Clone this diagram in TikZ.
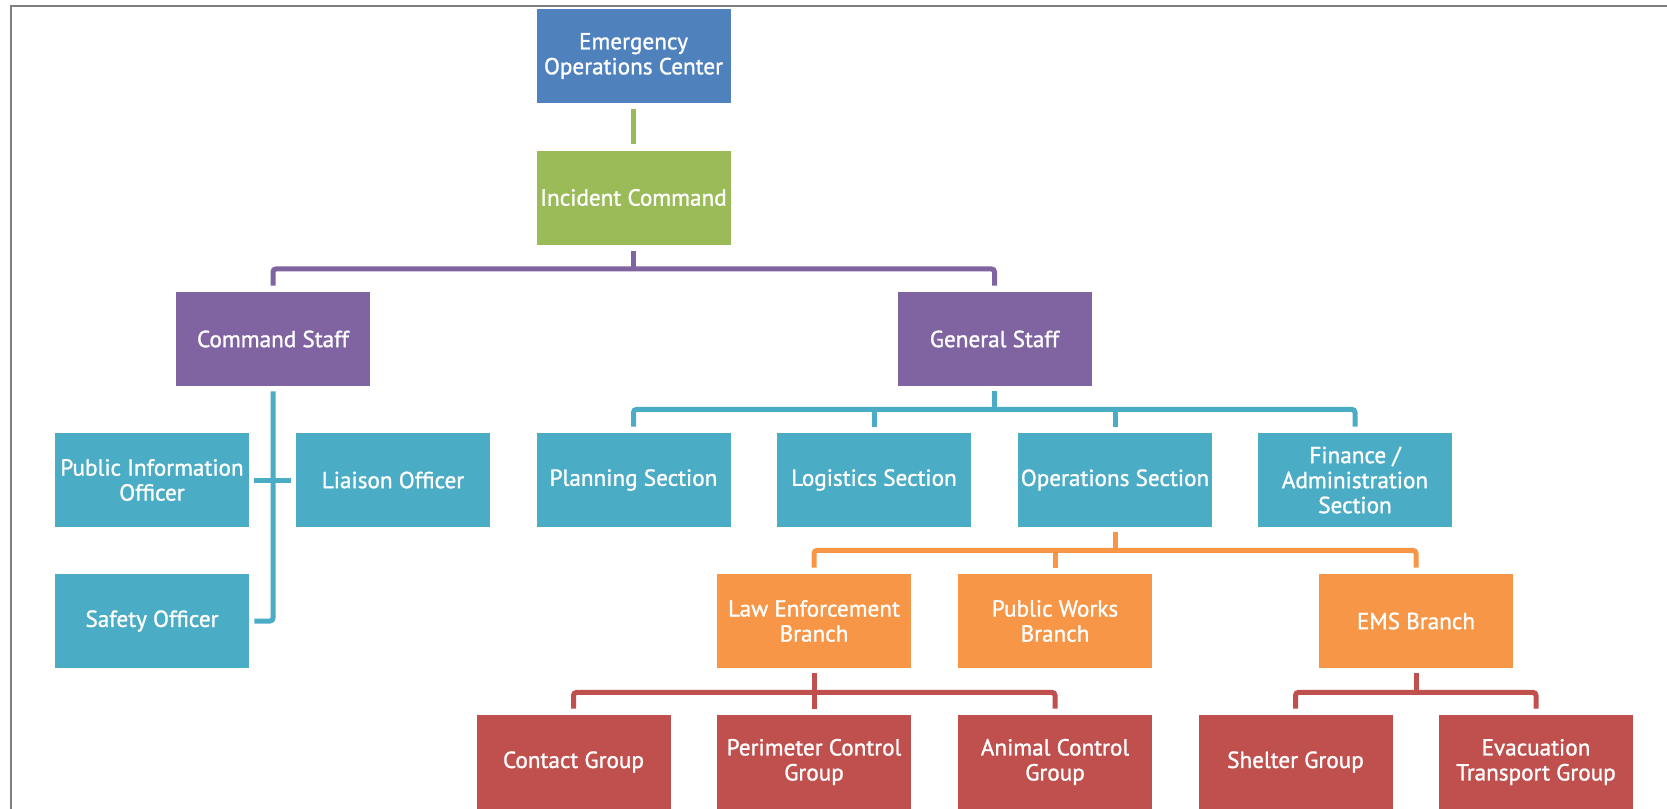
\documentclass[tikz,border=0pt]{standalone}
\usepackage{fontspec}
\setmainfont{PT Sans}
\newfontfamily\boxfont{PT Sans}[FakeBold=1.2]
\definecolor{cBlue}{HTML}{4F81BD}
\definecolor{cGreen}{HTML}{9BBB59}
\definecolor{cPurple}{HTML}{8064A2}
\definecolor{cTeal}{HTML}{4BACC6}
\definecolor{cOrange}{HTML}{F79646}
\definecolor{cRed}{HTML}{C0504D}
\definecolor{cFrame}{HTML}{7F7F7F}
\begin{document}
\begin{tikzpicture}[x=0.5pt,y=-0.5pt,
  box/.style={rectangle, minimum width=97pt, minimum height=47pt, inner sep=0pt,
    text=white, align=center, font=\boxfont\fontsize{11.6}{12.5}\selectfont},
  blue box/.style={box, fill=cBlue},
  green box/.style={box, fill=cGreen},
  purple box/.style={box, fill=cPurple},
  teal box/.style={box, fill=cTeal},
  orange box/.style={box, fill=cOrange},
  red box/.style={box, fill=cRed},
  conn/.style={line width=2.5pt, rounded corners=1.5pt},
  frame line/.style={draw=cFrame, line width=1pt}]
\useasboundingbox (0,0) rectangle (1667,809);
% frame
\draw[frame line] (11,820) -- (11,6) -- (1680,6);
% nodes
\node[blue box]   (EOC) at (633.5,56)  {Emergency\\Operations Center};
\node[green box]  (IC)  at (633.5,197.5) {Incident Command};
\node[purple box] (CS)  at (273,339)   {Command Staff};
\node[purple box] (GS)  at (994.5,339) {General Staff};
\node[teal box]   (PIO) at (152,480)   {Public Information\\Officer};
\node[teal box]   (LIA) at (393,480)   {Liaison Officer};
\node[teal box]   (SAF) at (152,621)   {Safety Officer};
\node[teal box]   (PL)  at (633.5,480) {Planning Section};
\node[teal box]   (LOG) at (874,480)   {Logistics Section};
\node[teal box]   (OPS) at (1115,480)  {Operations Section};
\node[teal box]   (FIN) at (1355,480)  {Finance /\\Administration\\Section};
\node[orange box] (LE)  at (814,621)   {Law Enforcement\\Branch};
\node[orange box] (PW)  at (1055,621)  {Public Works\\Branch};
\node[orange box] (EMS) at (1416,621)  {EMS Branch};
\node[red box]    (CON) at (573.5,762) {Contact Group};
\node[red box]    (PER) at (814,762)   {Perimeter Control\\Group};
\node[red box]    (ANI) at (1055,762)  {Animal Control\\Group};
\node[red box]    (SHE) at (1295.5,762) {Shelter Group};
\node[red box]    (EVA) at (1536,762)  {Evacuation\\Transport Group};
% bus coordinates
\coordinate (b1) at ([yshift=-12pt]IC.south);
\coordinate (b2) at ([yshift=-11.5pt]GS.south);
\coordinate (b3) at ([yshift=-11.5pt]OPS.south);
\coordinate (b4) at ([yshift=-12pt]LE.south);
\coordinate (b5) at ([yshift=-12pt]EMS.south);
% connectors
\draw[conn, cGreen] ([yshift=-3pt]EOC.south) -- ([yshift=3pt]IC.north);
\draw[conn, cPurple] ([yshift=-3pt]IC.south) -- (b1);
\draw[conn, cPurple] ([yshift=3pt]CS.north) |- (b1) -| ([yshift=3pt]GS.north);
\draw[conn, cTeal] ([yshift=-2.5pt]CS.south) |- ([xshift=2.5pt]SAF.east);
\draw[conn, cTeal] ([xshift=2.5pt]PIO.east) -- ([xshift=-2.5pt]LIA.west);
\draw[conn, cTeal] ([yshift=-2.5pt]GS.south) -- (b2);
\draw[conn, cTeal] ([yshift=3pt]PL.north) |- (b2) -| ([yshift=3pt]FIN.north);
\draw[conn, cTeal] ([yshift=3pt]LOG.north) -- (LOG.north |- b2);
\draw[conn, cTeal] ([yshift=3pt]OPS.north) -- (OPS.north |- b2);
\draw[conn, cOrange] ([yshift=-2.5pt]OPS.south) -- (b3);
\draw[conn, cOrange] ([yshift=3pt]LE.north) |- (b3) -| ([yshift=3pt]EMS.north);
\draw[conn, cOrange] ([yshift=3pt]PW.north) -- (PW.north |- b3);
\draw[conn, cRed] ([yshift=-2.5pt]LE.south) -- (b4);
\draw[conn, cRed] ([yshift=3pt]CON.north) |- (b4) -| ([yshift=3pt]ANI.north);
\draw[conn, cRed] ([yshift=3pt]PER.north) -- (PER.north |- b4);
\draw[conn, cRed] ([yshift=-2.5pt]EMS.south) -- (b5);
\draw[conn, cRed] ([yshift=3pt]SHE.north) |- (b5) -| ([yshift=3pt]EVA.north);
\end{tikzpicture}
\end{document}
